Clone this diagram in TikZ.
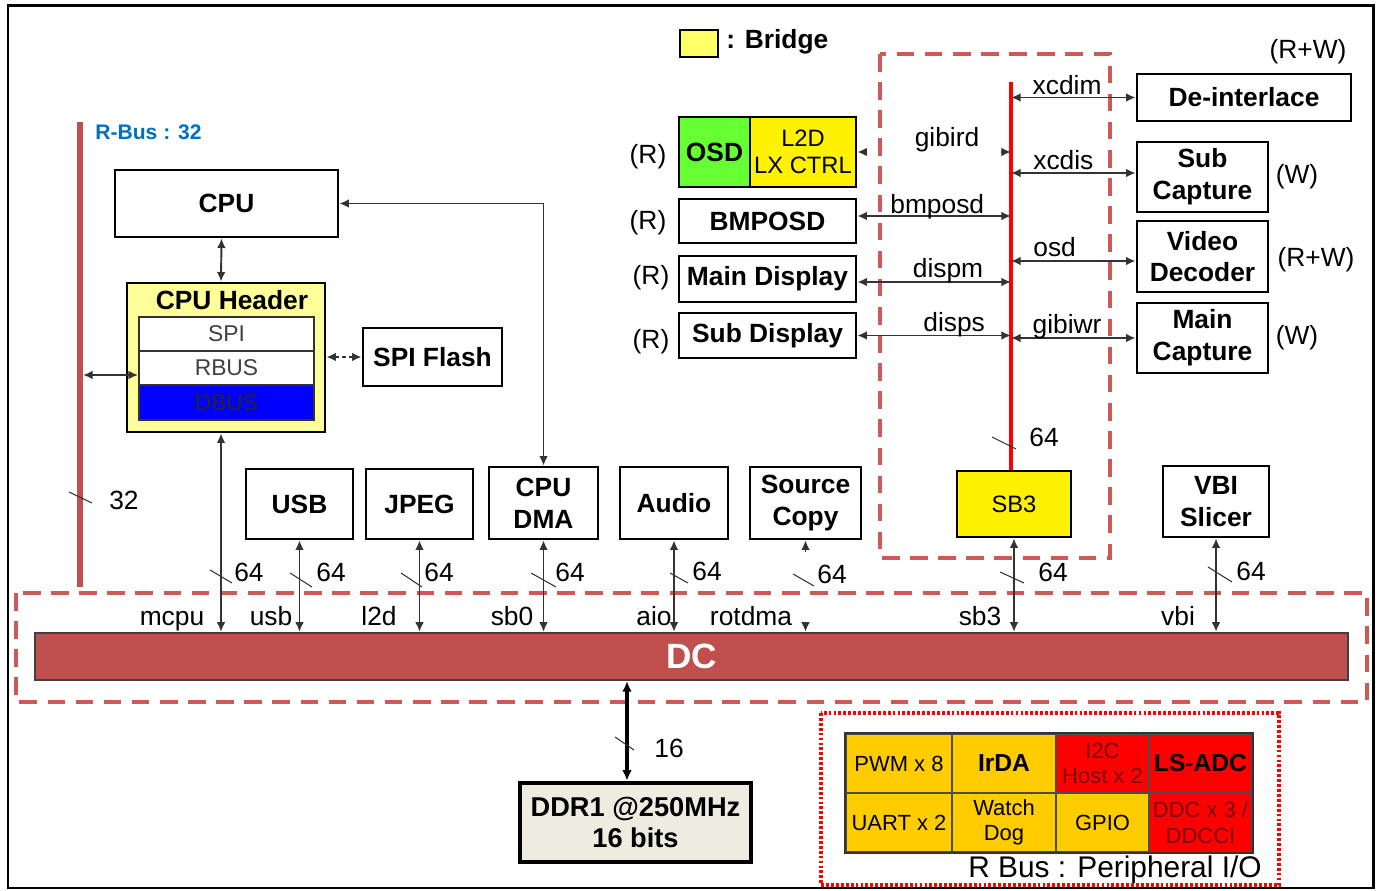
\documentclass[tikz,border=0pt]{standalone}
\usepackage{fontspec}
\setmainfont{Liberation Sans}
\usepackage{xcolor}
\usepackage{tikz}
\usetikzlibrary{arrows.meta}

\newlength\pxu
\setlength\pxu{0.02cm}

\definecolor{rbusred}{HTML}{C0504D}
\definecolor{zonered}{HTML}{CC5A57}
\definecolor{wiregray}{HTML}{333333}
\definecolor{bridgey}{HTML}{FFFF66}
\definecolor{hdryellow}{HTML}{FFFF99}
\definecolor{osdgreen}{HTML}{66FF33}
\definecolor{gold}{HTML}{FFCC00}
\definecolor{darkred}{HTML}{7A0000}
\definecolor{ddrbeige}{HTML}{EEECE1}
\definecolor{rbusblue}{HTML}{0070C0}

\tikzset{
  sz/.style 2 args={minimum width=#1\pxu, minimum height=#2\pxu},
  blk/.style={draw, line width=1.5pt, fill=white, inner sep=0pt, align=center,
              font=\bfseries\fontsize{15}{18}\selectfont},
  row/.style={draw=black!80, line width=1pt, fill=white, inner sep=0pt,
              text=black!75, font=\fontsize{13}{15}\selectfont},
  cell/.style={draw=black!70, line width=1pt, inner sep=0pt, align=center,
               font=\fontsize{12.5}{14.5}\selectfont},
  link/.style={draw=wiregray, line width=1.1pt,
               {Latex[length=5.5pt,width=5pt]}-{Latex[length=5.5pt,width=5pt]}},
  tip/.style={draw=wiregray, line width=1.1pt, -{Latex[length=5.5pt,width=5pt]}},
  tick/.style={draw=wiregray, line width=0.6pt},
  zone/.style={draw=zonered, line width=2.2pt, dash pattern=on 10pt off 6pt},
}

\begin{document}
\begin{tikzpicture}[x=0.02cm, y=-0.02cm, every node/.style={font=\fontsize{15}{17}\selectfont}]
  \useasboundingbox (0,0) rectangle (1379,891);
  \draw[line width=1.7pt] (8,6) rectangle (1373,888);

  % dashed groups
  \draw[zone] (880,54) rectangle (1110,558);
  \draw[zone] (16,593) rectangle (1367,702);
  \draw[draw=red, line width=1.8pt, dash pattern=on 1.6pt off 1.2pt] (821,713) rectangle (1279,885);

  % R-Bus
  \coordinate (rbtop) at (80,122);
  \coordinate (rbbot) at (80,587);
  \draw[rbusred, line width=3.4pt] (rbtop) -- (rbbot);
  \node[anchor=west, inner sep=0pt, text=rbusblue, font=\bfseries\fontsize{12}{14}\selectfont]
        (rbuslbl) at (95,132) {R-Bus : 32};
  \draw[tick] (69,492) -- (92,503);
  \node[anchor=base] (w32) at (124,510) {32};

  % CPU and its header
  \node[blk, sz={223}{67}] (cpu) at (226.5,203.5) {CPU};
  \node[draw, line width=1.5pt, fill=hdryellow, sz={198}{149}] (hdr) at (226,357.5) {};
  \node[font=\bfseries\fontsize{15}{17}\selectfont] (hdrtitle) at (232,300) {CPU Header};
  \node[row, sz={175}{34}] (spi) at (226.5,334) {SPI};
  \node[row, sz={175}{34}] (rbus) at (226.5,368) {RBUS};
  \node[row, fill=blue, text=black!85, sz={175}{35}] (dbus) at (226.5,402.5) {DBUS};
  \node[blk, sz={139}{58}] (spiflash) at (432.5,357) {SPI Flash};

  \draw[link] ([xshift=-5\pxu]cpu.south) -- ([xshift=-5\pxu]hdr.north);
  \coordinate (rbjoin) at (83,375);
  \draw[link] (rbjoin) -- (rbjoin -| rbus.west);
  \draw[link, dash pattern=on 2pt off 2pt] (hdr.east |- spiflash.west) -- (spiflash.west);

  % legend
  \node[draw, line width=1.2pt, fill=bridgey, sz={38}{27}] (legend) at (699,43.5) {};
  \node[anchor=west, inner sep=0pt, font=\bfseries\fontsize{15}{17}\selectfont]
        (legendtxt) at (726,42) {: Bridge};

  % display side
  \node[blk, fill=osdgreen, sz={71}{70}] (osd) at (714.5,152) {OSD};
  \node[blk, fill=yellow, font=\fontsize{13.5}{15}\selectfont, sz={106}{70}] (l2d) at (803,152) {L2D\\LX CTRL};
  \node[blk, sz={177}{44}] (bmposd) at (767.5,221) {BMPOSD};
  \node[blk, sz={177}{46}] (maindisp) at (767.5,279) {Main Display};
  \node[blk, sz={177}{45}] (subdisp) at (767.5,335.5) {Sub Display};
  \node (r1) at (648,157) {(R)};
  \node (r2) at (648,223) {(R)};
  \node (r3) at (651,278) {(R)};
  \node (r4) at (651,342) {(R)};

  % SB3 bus
  \node[blk, fill=yellow, font=\fontsize{13.5}{15}\selectfont, sz={114}{66}] (sb3) at (1014,504) {SB3};
  \coordinate (bustop) at (1011,82);
  \draw[red, line width=2.8pt] (bustop) -- (bustop |- sb3.north);
  \draw[tick] (992,437) -- (1016,449);
  \node[anchor=base] (w64bus) at (1044,447) {64};

  \node[blk, sz={214}{47}] (deint) at (1244,97.5) {De-interlace};
  \node[blk, sz={131}{70}] (subcap) at (1202.5,177) {Sub\\Capture};
  \node[blk, sz={131}{71}] (viddec) at (1202.5,256.5) {Video\\Decoder};
  \node[blk, sz={131}{70}] (maincap) at (1202.5,338) {Main\\Capture};
  \node (rw1) at (1308,52) {(R+W)};
  \node (w1) at (1297,177) {(W)};
  \node (rw2) at (1316,260) {(R+W)};
  \node (w2) at (1297,338) {(W)};

  \draw[tip] ([xshift=9\pxu]l2d.east) -- (l2d.east);
  \draw[tip] ([xshift=-10\pxu]bustop |- l2d.east) -- (bustop |- l2d.east);
  \node[anchor=base] (gibird) at (947,147) {gibird};
  \draw[link] ([yshift=5\pxu]bmposd.east) -- ([yshift=5\pxu]bmposd.east -| bustop)
        node[pos=0.52, anchor=base, yshift=2.5\pxu, inner sep=0pt] {bmposd};
  \draw[link] ([yshift=-3\pxu]maindisp.east) -- ([yshift=-3\pxu]maindisp.east -| bustop)
        node[pos=0.59, anchor=base, yshift=4\pxu, inner sep=0pt] {dispm};
  \draw[link] (subdisp.east) -- (subdisp.east -| bustop)
        node[pos=0.63, anchor=base, yshift=4\pxu, inner sep=0pt] {disps};

  \draw[link] (deint.west -| bustop) -- (deint.west)
        node[pos=0.45, anchor=base, yshift=2.5\pxu, inner sep=0pt] {xcdim};
  \draw[link] ([yshift=4\pxu]subcap.west -| bustop) -- ([yshift=4\pxu]subcap.west)
        node[pos=0.42, anchor=base, yshift=3\pxu, inner sep=0pt] {xcdis};
  \draw[link] ([yshift=-4.5\pxu]viddec.west -| bustop) -- ([yshift=-4.5\pxu]viddec.west)
        node[pos=0.35, anchor=base, yshift=4\pxu, inner sep=0pt] {osd};
  \draw[link] (maincap.west -| bustop) -- (maincap.west)
        node[pos=0.45, anchor=base, yshift=4\pxu, inner sep=0pt] {gibiwr};

  % DC and its clients
  \node[draw=black!75, line width=1.3pt, fill=rbusred, text=white,
        font=\bfseries\fontsize{20}{22}\selectfont, sz={1313}{47}] (dc) at (691.5,656.5) {DC};

  \node[blk, sz={107}{70}] (usb) at (299.5,504) {USB};
  \node[blk, sz={107}{70}] (jpeg) at (419.5,504) {JPEG};
  \node[blk, sz={109}{72}] (dma) at (543.5,503) {CPU\\DMA};
  \node[blk, sz={108}{72}] (audio) at (674,503) {Audio};
  \node[blk, sz={111}{72}] (srccopy) at (805.5,503) {Source\\Copy};
  \node[blk, sz={106}{71}] (vbi) at (1216,501.5) {VBI\\Slicer};

  \draw[link] (cpu.east) -| (dma.north);
  \draw[link] ([xshift=-5\pxu]hdr.south) -- ([xshift=-5\pxu]hdr.south |- dc.north);
  \draw[link] (usb.south) -- (usb.south |- dc.north);
  \draw[link] (jpeg.south) -- (jpeg.south |- dc.north);
  \draw[link] (dma.south) -- (dma.south |- dc.north);
  \draw[link] (audio.south) -- (audio.south |- dc.north);
  \draw[tip] ([yshift=-12\pxu]srccopy.south) -- (srccopy.south);
  \draw[tip] ([yshift=9\pxu]srccopy.south |- dc.north) -- (srccopy.south |- dc.north);
  \draw[link] (sb3.south) -- (sb3.south |- dc.north);
  \draw[link] (vbi.south) -- (vbi.south |- dc.north);

  \node[anchor=base] (lmcpu) at (172,625) {mcpu};
  \node[anchor=base] (lusb) at (271,625) {usb};
  \node[anchor=base] (ll2d) at (379,625) {l2d};
  \node[anchor=base] (lsb0) at (512,625) {sb0};
  \node[anchor=base] (laio) at (654,625) {aio};
  \node[anchor=base] (lrot) at (751,625) {rotdma};
  \node[anchor=base] (lsb3) at (980,625) {sb3};
  \node[anchor=base] (lvbi) at (1178,625) {vbi};

  \draw[tick] (210,570) -- (232,583);
  \node[anchor=base] (w64a) at (249,582) {64};
  \draw[tick] (290,573) -- (312,587);
  \node[anchor=base] (w64b) at (331,582) {64};
  \draw[tick] (401,573) -- (422,587);
  \node[anchor=base] (w64c) at (439,582) {64};
  \draw[tick] (531,573) -- (556,587);
  \node[anchor=base] (w64d) at (570,582) {64};
  \draw[tick] (670,573) -- (688,583);
  \node[anchor=base] (w64e) at (707,580) {64};
  \draw[tick] (793,574) -- (814,586);
  \node[anchor=base] (w64f) at (832,583) {64};
  \draw[tick] (1000,572) -- (1024,583);
  \node[anchor=base] (w64g) at (1053,582) {64};
  \draw[tick] (1208,567) -- (1232,582);
  \node[anchor=base] (w64h) at (1251,580) {64};

  % DDR
  \node[draw, line width=2.6pt, fill=ddrbeige, align=center,
        font=\bfseries\fontsize{15.5}{18}\selectfont, sz={231}{79}] (ddr) at (635.5,822.5) {DDR1 @250MHz\\16 bits};
  \draw[draw=black, line width=2pt, {Latex[length=6pt,width=5.5pt]}-{Latex[length=6pt,width=5.5pt]}]
        ([xshift=-8.5\pxu]ddr.north) -- ([xshift=-8.5\pxu]ddr.north |- dc.south);
  \draw[tick] (615,737) -- (634,750);
  \node[anchor=base] (w16) at (669,757) {16};

  % peripheral I/O
  \node[cell, fill=gold, sz={106}{59}] (pwm) at (899,763.5) {PWM x 8};
  \node[cell, fill=gold, font=\bfseries\fontsize{14}{16}\selectfont, sz={104}{59}] (irda) at (1004,763.5) {IrDA};
  \node[cell, fill=red, text=darkred, sz={93}{59}] (i2c) at (1102.5,763.5) {I2C\\Host x 2};
  \node[cell, fill=red, font=\bfseries\fontsize{14}{16}\selectfont, sz={103}{59}] (lsadc) at (1200.5,763.5) {LS-ADC};
  \node[cell, fill=gold, sz={106}{59}] (uart) at (899,822.5) {UART x 2};
  \node[cell, fill=gold, sz={104}{59}] (watch) at (1004,822.5) {Watch\\Dog};
  \node[cell, fill=gold, sz={93}{59}] (gpio) at (1102.5,822.5) {GPIO};
  \node[cell, fill=red, text=darkred, sz={103}{59}] (ddc) at (1200.5,822.5) {DDC x 3 /\\DDCCI};
  \draw[line width=1.5pt, black!80] (pwm.north west) rectangle (ddc.south east);
  \node[anchor=base, font=\fontsize{17}{19}\selectfont] (periph) at (1115,877) {R Bus : Peripheral I/O};
\end{tikzpicture}
\end{document}
